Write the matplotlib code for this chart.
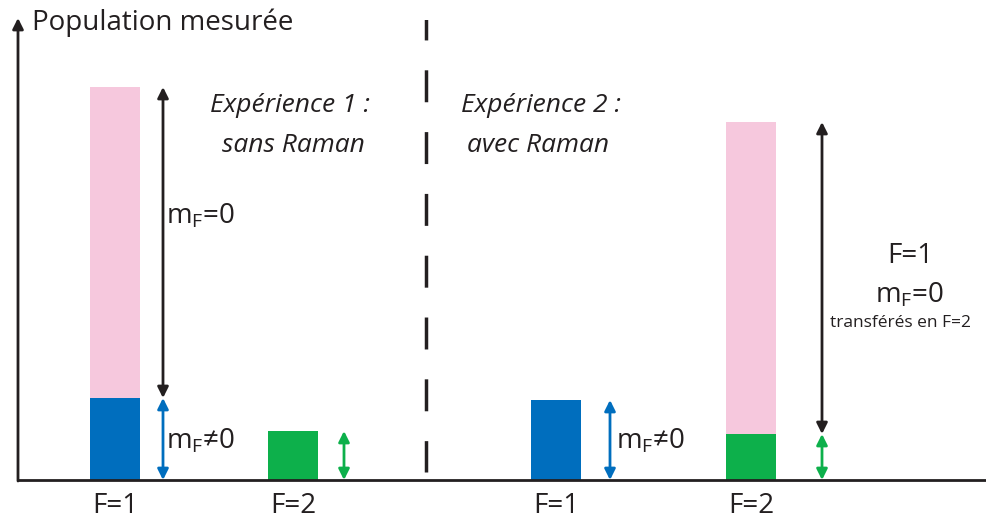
import matplotlib
matplotlib.use('Agg')
import matplotlib.pyplot as plt

plt.rcParams['font.family'] = ['Open Sans', 'DejaVu Sans']
plt.rcParams['mathtext.fontset'] = 'custom'
plt.rcParams['mathtext.rm'] = 'Open Sans'
plt.rcParams['mathtext.it'] = 'Open Sans:italic'

# bar positions (pixel-like units along x) and stacked heights
positions = [115, 293, 556, 751]
labels = ['F=1', 'F=2', 'F=1', 'F=2']
base_vals = [82, 49, 80, 46]
top_vals = [311, 0, 0, 312]
base_colors = ['#006EBE', '#0DB04B', '#006EBE', '#0DB04B']
pink = '#F6C8DD'
width = 50

fig = plt.figure(figsize=(9.86, 5.21), dpi=100)
ax = fig.add_axes([18 / 986, 41 / 521, 968 / 986, 460 / 521])
ax.set_xlim(18, 986)
ax.set_ylim(0, 460)
ax.axis('off')

ax.bar(positions, base_vals, width=width, color=base_colors, zorder=2)
ax.bar(positions, top_vals, width=width, bottom=base_vals, color=pink, zorder=2)

# axes drawn by hand: x baseline and y arrow
ax.plot([18, 986], [0, 0], color='#231F20', lw=2, zorder=3, clip_on=False)
ax.annotate('', xy=(18, 462), xytext=(18, -1),
            arrowprops=dict(arrowstyle='-|>', color='#231F20', lw=2,
                            mutation_scale=16, shrinkA=0, shrinkB=0),
            annotation_clip=False)

# dashed separator between experiments, drawn top-down
ax.plot([426, 426], [472, 8], color='#231F20', lw=2.5,
        dashes=(9.2, 8.6), zorder=1)


def double_arrow(x, y0, y1, color):
    ax.annotate('', xy=(x, y1), xytext=(x, y0),
                arrowprops=dict(arrowstyle='<|-|>', color=color, lw=2,
                                mutation_scale=16, shrinkA=0, shrinkB=0))


# left experiment
double_arrow(163, base_vals[0], base_vals[0] + top_vals[0], '#231F20')
double_arrow(163, 0, base_vals[0], '#006EBE')
double_arrow(344, 0, base_vals[1], '#0DB04B')
# right experiment
double_arrow(610, 0, base_vals[2], '#006EBE')
double_arrow(822, base_vals[3], base_vals[3] + top_vals[3], '#231F20')
double_arrow(822, 0, base_vals[3], '#0DB04B')

txt = '#231F20'
fs = 20
fs_it = 19
ax.text(32, 457, 'Population mesurée', fontsize=fs, color=txt, va='center', ha='left')

for x, lab in zip(positions, labels):
    ax.text(x, -26, lab, fontsize=fs, color=txt, ha='center', va='center')

ax.text(290, 375, 'Expérience 1 :', fontsize=fs_it, color=txt, ha='center', va='center', style='italic')
ax.text(293, 335, 'sans Raman', fontsize=fs_it, color=txt, ha='center', va='center', style='italic')
ax.text(541, 375, 'Expérience 2 :', fontsize=fs_it, color=txt, ha='center', va='center', style='italic')
ax.text(538, 335, 'avec Raman', fontsize=fs_it, color=txt, ha='center', va='center', style='italic')

ax.text(166, 264, r'm$_{\mathrm{F}}$=0', fontsize=fs, color=txt, ha='left', va='center')
ax.text(166, 39, r'm$_{\mathrm{F}}$≠0', fontsize=fs, color=txt, ha='left', va='center')
ax.text(616, 39, r'm$_{\mathrm{F}}$≠0', fontsize=fs, color=txt, ha='left', va='center')

ax.text(910, 224, 'F=1', fontsize=fs, color=txt, ha='center', va='center')
ax.text(910, 185, r'm$_{\mathrm{F}}$=0', fontsize=fs, color=txt, ha='center', va='center')
ax.text(901, 157, 'transférés en F=2', fontsize=12.5, color=txt, ha='center', va='center')

fig.savefig('out.png', dpi=100)
